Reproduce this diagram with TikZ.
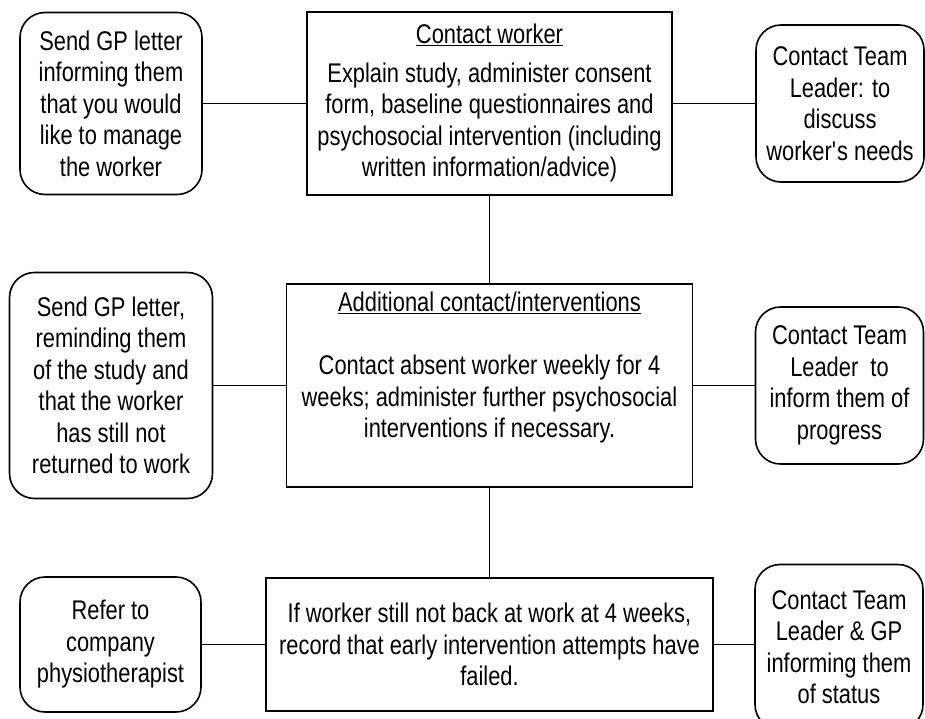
\documentclass[tikz,border=0pt]{standalone}
\usepackage{fontspec}
\setmainfont[FakeStretch=0.81]{Liberation Sans}
\newcommand{\heading}[1]{\underline{#1}}

\begin{document}
\begin{tikzpicture}[x=1pt,y=1pt,
    font=\fontsize{27}{31.5}\selectfont,
    stage/.style={draw,line width=1.6pt,align=center,inner sep=4pt},
    contact/.style={draw,line width=1.6pt,rounded corners=25pt,align=center,inner sep=4pt},
    link/.style={line width=1.4pt},
    node distance=282pt]
      \useasboundingbox (0,0) rectangle (925,-718);

      \node [stage,line width=2.4pt,minimum width=365pt,minimum height=183pt] (1) at (489.5,-103.5)
        {\heading{Contact worker}\\[7pt]
         Explain study, administer consent\\
         form, baseline questionnaires and\\
         psychosocial intervention (including\\
         written information/advice)};
      \node [contact,left of=1,node distance=378.5pt,minimum width=182pt,minimum height=182pt] (2)
        {Send GP letter\\ informing them\\ that you would\\ like to manage\\ the worker};
      \node [contact,right of=1,node distance=350.5pt,minimum width=168pt,minimum height=157pt] (3)
        {Contact Team\\ Leader: to\\ discuss\\ worker\textquotesingle s needs};

      \node [stage,below of=1,minimum width=406pt,minimum height=203pt] (4)
        {\heading{Additional contact/interventions}\\[31.5pt]
         Contact absent worker weekly for 4\\
         weeks; administer further psychosocial\\
         interventions if necessary.\\ \strut};
      \node [contact,left of=4,node distance=378.5pt,minimum width=203pt,minimum height=226pt] (5)
        {Send GP letter,\\ reminding them\\ of the study and\\ that the worker\\ has still not\\ returned to work};
      \node [contact,right of=4,node distance=350pt,minimum width=168pt,minimum height=157pt] (6)
        {Contact Team\\ Leader\ \ to\\ inform them of\\ progress};

      \node [stage,below of=4,node distance=259pt,minimum width=447pt,minimum height=133pt] (7)
        {If worker still not back at work at 4 weeks,\\
         record that early intervention attempts have\\
         failed.};
      \node [contact,left of=7,node distance=379pt,minimum width=181pt,minimum height=135pt] (8)
        {Refer to\\ company\\ physiotherapist};
      \node [contact,right of=7,node distance=349.5pt,yshift=-2.5pt,minimum width=168pt,minimum height=165pt] (9)
        {Contact Team\\ Leader \& GP\\ informing them\\ of status};

      \draw [link] (2) -- (1);
      \draw [link] (1) -- (3);
      \draw [link] (1) -- (4);
      \draw [link] (5) -- (4);
      \draw [link] (4) -- (6);
      \draw [link] (4) -- (7);
      \draw [link] (8) -- (7);
      \draw [link] (7.east) -- (7.east -| 9.west);
    \end{tikzpicture}
\end{document}
